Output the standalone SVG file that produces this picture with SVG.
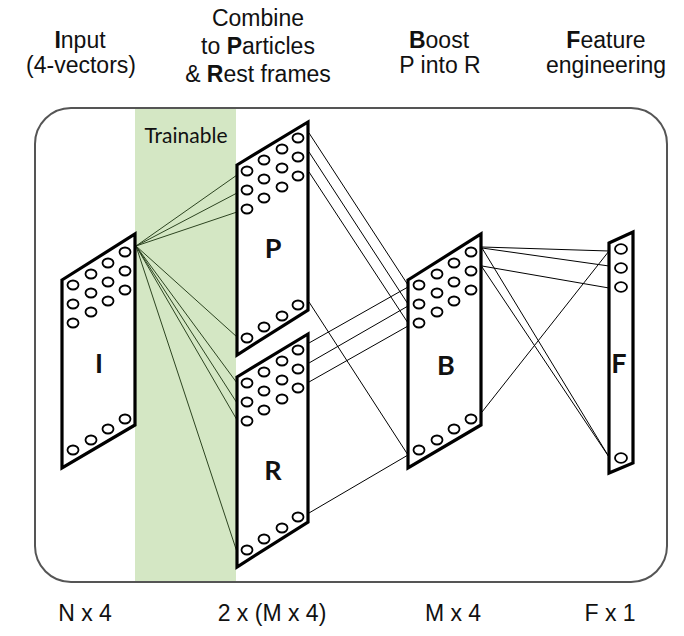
<svg xmlns="http://www.w3.org/2000/svg" width="684" height="636" viewBox="0 0 684 636">
<style>
.hdr{font-family:"Liberation Sans",Arial,sans-serif;font-size:23px;fill:#111;text-anchor:middle}
.ftr{font-family:"Liberation Sans",Arial,sans-serif;font-size:23px;fill:#111;text-anchor:middle}
.b{font-weight:bold}
.node{fill:#fff;stroke:#000;stroke-width:3.2;stroke-linejoin:miter}
.c{fill:#fff;stroke:#000;stroke-width:1.8}
.lbl{font-family:Lato,"Open Sans",sans-serif;font-size:27px;font-weight:bold;fill:#111;text-anchor:middle}
.ln{stroke:#000;stroke-width:1;fill:none}
.lg{stroke:#2c4420;stroke-width:1;fill:none}
</style>
<rect width="684" height="636" fill="#fff"/>
<g id="headers">
<text class="hdr" x="80" y="48"><tspan class="b">I</tspan>nput</text>
<text class="hdr" x="81" y="73">(4-vectors)</text>
<text class="hdr" x="258" y="26">Combine</text>
<text class="hdr" x="258" y="54">to <tspan class="b">P</tspan>articles</text>
<text class="hdr" x="258" y="82">&amp; <tspan class="b">R</tspan>est frames</text>
<text class="hdr" x="439" y="48"><tspan class="b">B</tspan>oost</text>
<text class="hdr" x="440" y="73">P into R</text>
<text class="hdr" x="606" y="48"><tspan class="b">F</tspan>eature</text>
<text class="hdr" x="606" y="73">engineering</text>
</g>
<rect id="frame" x="35" y="108" width="632" height="474" rx="36" ry="36" fill="none" stroke="#555" stroke-width="2"/>
<rect id="trainable-band" x="135" y="109" width="101" height="472" fill="#d4e7c4"/>
<text x="186" y="143" font-family="Lato,'Open Sans',sans-serif" font-size="21" fill="#111" text-anchor="middle">Trainable</text>
<g id="connectors">
<g class="lg">
<line x1="136" y1="246" x2="237" y2="175"/>
<line x1="136" y1="246" x2="237" y2="193"/>
<line x1="136" y1="246" x2="237" y2="212"/>
<line x1="136" y1="246" x2="237" y2="337"/>
<line x1="136" y1="246" x2="237" y2="383"/>
<line x1="136" y1="246" x2="237" y2="403"/>
<line x1="136" y1="246" x2="237" y2="420"/>
<line x1="136" y1="246" x2="237" y2="552"/>
</g>
<g class="ln">
<line x1="309" y1="133" x2="408" y2="285"/>
<line x1="309" y1="152" x2="408" y2="304"/>
<line x1="309" y1="172" x2="408" y2="323"/>
<line x1="309" y1="302" x2="408" y2="455"/>
<line x1="309" y1="343" x2="408" y2="287"/>
<line x1="309" y1="363" x2="408" y2="306"/>
<line x1="309" y1="382" x2="408" y2="326"/>
<line x1="309" y1="513" x2="408" y2="455"/>
<line x1="482" y1="247" x2="609" y2="251"/>
<line x1="482" y1="248" x2="609" y2="266"/>
<line x1="482" y1="266" x2="609" y2="288"/>
<line x1="482" y1="248" x2="609" y2="457"/>
<line x1="482" y1="267" x2="609" y2="457"/>
<line x1="482" y1="412" x2="609" y2="251"/>
</g>
</g>
<g id="node-I">
<path class="node" d="M62,280 L135,234 L135,425 L62,468 Z"/>
<g class="c">
<ellipse cx="73" cy="285" rx="5.5" ry="4.5"/><ellipse cx="73" cy="304" rx="5.5" ry="4.5"/><ellipse cx="73" cy="323" rx="5.5" ry="4.5"/>
<ellipse cx="91" cy="274" rx="5.5" ry="4.5"/><ellipse cx="91" cy="293" rx="5.5" ry="4.5"/><ellipse cx="91" cy="312" rx="5.5" ry="4.5"/>
<ellipse cx="108" cy="263" rx="5.5" ry="4.5"/><ellipse cx="108" cy="282" rx="5.5" ry="4.5"/><ellipse cx="108" cy="301" rx="5.5" ry="4.5"/>
<ellipse cx="125" cy="252" rx="5.5" ry="4.5"/><ellipse cx="125" cy="271" rx="5.5" ry="4.5"/><ellipse cx="125" cy="290" rx="5.5" ry="4.5"/>
<ellipse cx="73" cy="450" rx="5.5" ry="4.5"/><ellipse cx="91" cy="440" rx="5.5" ry="4.5"/><ellipse cx="108" cy="429" rx="5.5" ry="4.5"/><ellipse cx="125" cy="419" rx="5.5" ry="4.5"/>
</g>
<text class="lbl" x="99" y="373">I</text>
</g>
<g id="node-P">
<path class="node" d="M237,165 L308,122 L308,310 L237,355 Z"/>
<g class="c">
<ellipse cx="247" cy="171" rx="5.5" ry="4.5"/><ellipse cx="247" cy="190" rx="5.5" ry="4.5"/><ellipse cx="247" cy="209" rx="5.5" ry="4.5"/>
<ellipse cx="264" cy="160" rx="5.5" ry="4.5"/><ellipse cx="264" cy="179" rx="5.5" ry="4.5"/><ellipse cx="264" cy="198" rx="5.5" ry="4.5"/>
<ellipse cx="282" cy="149" rx="5.5" ry="4.5"/><ellipse cx="282" cy="168" rx="5.5" ry="4.5"/><ellipse cx="282" cy="187" rx="5.5" ry="4.5"/>
<ellipse cx="298" cy="138" rx="5.5" ry="4.5"/><ellipse cx="298" cy="157" rx="5.5" ry="4.5"/><ellipse cx="298" cy="176" rx="5.5" ry="4.5"/>
<ellipse cx="247" cy="338" rx="5.5" ry="4.5"/><ellipse cx="264" cy="327" rx="5.5" ry="4.5"/><ellipse cx="282" cy="316" rx="5.5" ry="4.5"/><ellipse cx="298" cy="305" rx="5.5" ry="4.5"/>
</g>
<text class="lbl" x="273" y="258">P</text>
</g>
<g id="node-R">
<path class="node" d="M237,377 L308,334 L308,522 L237,567 Z"/>
<g class="c">
<ellipse cx="247" cy="383" rx="5.5" ry="4.5"/><ellipse cx="247" cy="402" rx="5.5" ry="4.5"/><ellipse cx="247" cy="421" rx="5.5" ry="4.5"/>
<ellipse cx="264" cy="372" rx="5.5" ry="4.5"/><ellipse cx="264" cy="391" rx="5.5" ry="4.5"/><ellipse cx="264" cy="410" rx="5.5" ry="4.5"/>
<ellipse cx="282" cy="361" rx="5.5" ry="4.5"/><ellipse cx="282" cy="380" rx="5.5" ry="4.5"/><ellipse cx="282" cy="399" rx="5.5" ry="4.5"/>
<ellipse cx="298" cy="350" rx="5.5" ry="4.5"/><ellipse cx="298" cy="369" rx="5.5" ry="4.5"/><ellipse cx="298" cy="388" rx="5.5" ry="4.5"/>
<ellipse cx="247" cy="550" rx="5.5" ry="4.5"/><ellipse cx="264" cy="539" rx="5.5" ry="4.5"/><ellipse cx="282" cy="528" rx="5.5" ry="4.5"/><ellipse cx="298" cy="517" rx="5.5" ry="4.5"/>
</g>
<text class="lbl" x="273" y="480">R</text>
</g>
<g id="node-B">
<path class="node" d="M408,280 L481,234 L481,425 L408,468 Z"/>
<g class="c">
<ellipse cx="419" cy="285" rx="5.5" ry="4.5"/><ellipse cx="419" cy="304" rx="5.5" ry="4.5"/><ellipse cx="419" cy="323" rx="5.5" ry="4.5"/>
<ellipse cx="437" cy="274" rx="5.5" ry="4.5"/><ellipse cx="437" cy="293" rx="5.5" ry="4.5"/><ellipse cx="437" cy="312" rx="5.5" ry="4.5"/>
<ellipse cx="454" cy="263" rx="5.5" ry="4.5"/><ellipse cx="454" cy="282" rx="5.5" ry="4.5"/><ellipse cx="454" cy="301" rx="5.5" ry="4.5"/>
<ellipse cx="471" cy="252" rx="5.5" ry="4.5"/><ellipse cx="471" cy="271" rx="5.5" ry="4.5"/><ellipse cx="471" cy="290" rx="5.5" ry="4.5"/>
<ellipse cx="419" cy="450" rx="5.5" ry="4.5"/><ellipse cx="437" cy="440" rx="5.5" ry="4.5"/><ellipse cx="454" cy="429" rx="5.5" ry="4.5"/><ellipse cx="471" cy="419" rx="5.5" ry="4.5"/>
</g>
<text class="lbl" x="446" y="375">B</text>
</g>
<g id="node-F">
<path class="node" d="M609,243 L633,232 L633,463 L609,473 Z"/>
<g class="c">
<ellipse cx="621" cy="249" rx="6" ry="4.8"/><ellipse cx="621" cy="268" rx="6" ry="4.8"/><ellipse cx="621" cy="287" rx="6" ry="4.8"/>
<ellipse cx="621" cy="458" rx="6" ry="4.8"/>
</g>
<text class="lbl" x="619" y="373">F</text>
</g>
<g id="footers">
<text class="ftr" x="85" y="621">N x 4</text>
<text class="ftr" x="272" y="621">2 x (M x 4)</text>
<text class="ftr" x="453" y="621">M x 4</text>
<text class="ftr" x="610" y="621">F x 1</text>
</g>
</svg>
